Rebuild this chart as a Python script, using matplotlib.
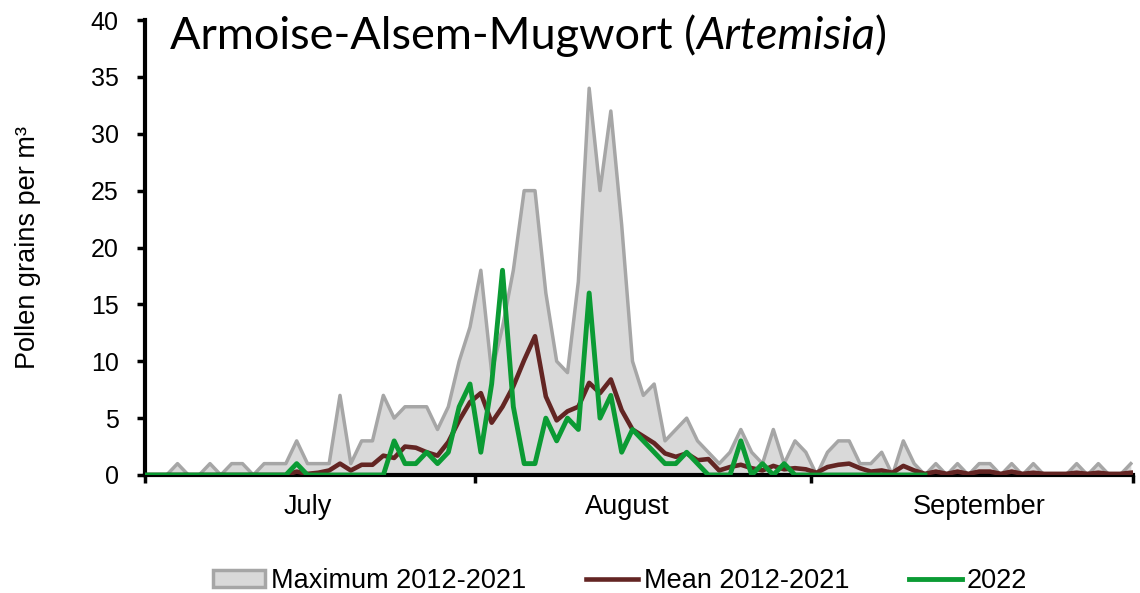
import matplotlib.pyplot as plt
from matplotlib.patches import Patch
from matplotlib.lines import Line2D
import numpy as np

# Daily values, 1 July (index 0) to 30 September (index 91)
maximo = [0, 0, 0, 1, 0, 0, 1, 0, 1, 1,
          0, 1, 1, 1, 3, 1, 1, 1, 7, 1,
          3, 3, 7, 5, 6, 6, 6, 4, 6, 10,
          13, 18, 9, 13, 18, 25, 25, 16, 10, 9,
          17, 34, 25, 32, 22, 10, 7, 8, 3, 4,
          5, 3, 2, 1, 2, 4, 2, 1, 4, 1,
          3, 2, 0, 2, 3, 3, 1, 1, 2, 0,
          3, 1, 0, 1, 0, 1, 0, 1, 1, 0,
          1, 0, 1, 0, 0, 0, 1, 0, 1, 0,
          0, 1]

media = [0, 0, 0, 0, 0, 0, 0, 0, 0, 0,
         0, 0, 0, 0, 0.3, 0.1, 0.2, 0.4, 1.0, 0.4,
         0.9, 0.9, 1.7, 1.5, 2.5, 2.4, 2.0, 1.7, 2.9, 4.8,
         6.4, 7.2, 4.6, 6.0, 7.8, 10.1, 12.2, 6.9, 4.8, 5.6,
         6.0, 8.1, 7.2, 8.4, 5.7, 4.0, 3.4, 2.8, 1.9, 1.6,
         1.9, 1.3, 1.4, 0.4, 0.7, 0.9, 0.6, 0.4, 0.8, 0.5,
         0.6, 0.5, 0.2, 0.7, 0.9, 1.0, 0.6, 0.3, 0.4, 0.2,
         0.8, 0.4, 0.1, 0.3, 0.1, 0.3, 0.1, 0.3, 0.3, 0.1,
         0.3, 0.1, 0.2, 0.1, 0.1, 0.1, 0.2, 0.1, 0.2, 0.1,
         0.1, 0.2]

anio_2022 = [0, 0, 0, 0, 0, 0, 0, 0, 0, 0,
             0, 0, 0, 0, 1, 0, 0, 0, 0, 0,
             0, 0, 0, 3, 1, 1, 2, 1, 2, 6,
             8, 2, 8, 18, 6, 1, 1, 5, 3, 5,
             4, 16, 5, 7, 2, 4, 3, 2, 1, 1,
             2, 1, 0, 0, 0, 3, 0, 1, 0, 1,
             0, 0, 0, 0, 0, 0, 0, 0, 0, 0,
             0, 0, 0]

meses = ["July", "August", "September"]
pos_meses = [15, 44.5, 77]
limites_meses = [0, 30.5, 61.5, 91.2]

COLOR_FILL = "#d9d9d9"
COLOR_EDGE = "#a6a6a6"
COLOR_MEDIA = "#632523"
COLOR_2022 = "#0b9b34"

plt.rcParams['font.family'] = ['Liberation Sans', 'DejaVu Sans']
TITULO = ['Lato', 'DejaVu Sans']

fig = plt.figure(figsize=(11.4, 5.93), dpi=100)
ax = fig.add_axes([145 / 1140, 1 - 475 / 593, (1133 - 145) / 1140, 455 / 593])

dias = np.arange(len(maximo))
ax.fill_between(dias, maximo, 0, color=COLOR_FILL, linewidth=0, zorder=1)
ax.plot(dias, maximo, color=COLOR_EDGE, linewidth=2.5, zorder=2)
ax.plot(dias, media, color=COLOR_MEDIA, linewidth=3.3, zorder=3)
ax.plot(np.arange(len(anio_2022)), anio_2022, color=COLOR_2022, linewidth=3.5, zorder=4)

ax.set_xlim(0, 91.2)
ax.set_ylim(0, 40)
ax.set_yticks(range(0, 41, 5))
ax.tick_params(axis='y', labelsize=18, width=2.5, length=6, direction='out', pad=13)

ax.set_xticks(limites_meses)
ax.set_xticklabels([])
ax.tick_params(axis='x', which='major', width=2.5, length=6, direction='out')
ax.set_xticks(pos_meses, minor=True)
ax.set_xticklabels(meses, minor=True, fontsize=19.5)
ax.tick_params(axis='x', which='minor', length=0, pad=14)

for lado in ['top', 'right']:
    ax.spines[lado].set_visible(False)
for lado in ['left', 'bottom']:
    ax.spines[lado].set_linewidth(3)

ax.set_ylabel("Pollen grains per m³", fontsize=19.5)
ax.yaxis.set_label_coords(-0.105, 0.5)

# Title with italic genus name
base_y = 1 - 49 / 593
t1 = fig.text(170 / 1140, base_y, "Armoise-Alsem-Mugwort (", fontsize=32.5,
              family=TITULO, va='baseline', ha='left')
fig.canvas.draw()
x2 = t1.get_window_extent().x1 / fig.bbox.width
t2 = fig.text(x2, base_y, "Artemisia", fontsize=32.5, style='italic',
              family=TITULO, va='baseline', ha='left')
fig.canvas.draw()
x3 = t2.get_window_extent().x1 / fig.bbox.width
fig.text(x3, base_y, ")", fontsize=32.5, family=TITULO, va='baseline', ha='left')

handles = [
    Patch(facecolor=COLOR_FILL, edgecolor=COLOR_EDGE, linewidth=2.5),
    Line2D([0], [0], color=COLOR_MEDIA, linewidth=3.3),
    Line2D([0], [0], color=COLOR_2022, linewidth=3.5),
]
etiquetas = ["Maximum 2012-2021", "Mean 2012-2021", "2022"]
fig.legend(handles, etiquetas, loc='center', bbox_to_anchor=(620 / 1140, 1 - 581 / 593),
           ncol=3, frameon=False, fontsize=19.5,
           handlelength=1.95, handleheight=0.55, handletextpad=0.2, columnspacing=2.2)

plt.savefig("out.png", dpi=100)
